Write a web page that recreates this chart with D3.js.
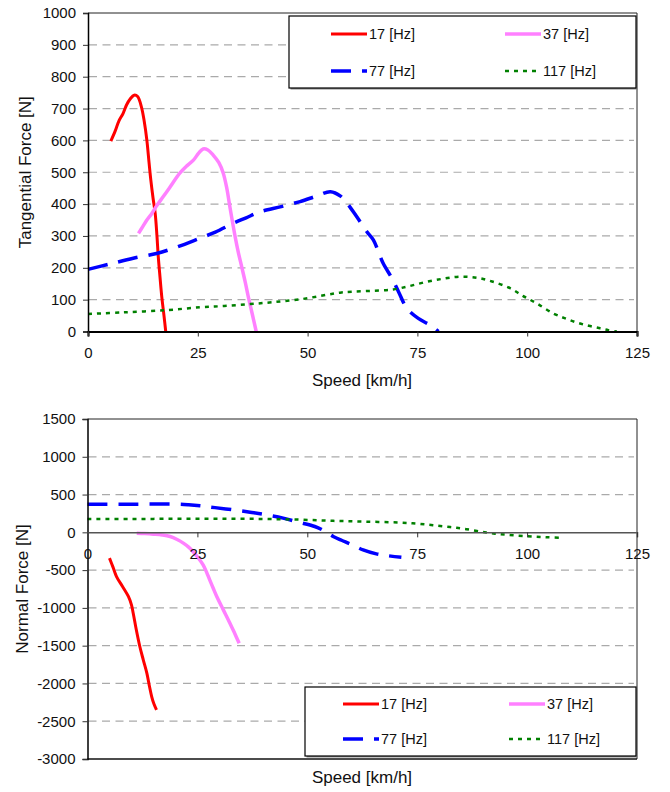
<!DOCTYPE html>
<html>
<head>
<meta charset="utf-8">
<script src="https://cdn.jsdelivr.net/npm/d3@7"></script>
<style>
  body { margin: 0; background: #fff; }
  svg { display: block; font-family: "Liberation Sans", Arial, sans-serif; }
</style>
</head>
<body>
<svg id="chart" width="670" height="792"></svg>
<script>
// series: [speed km/h, force N]
const seriesNames = ['17 [Hz]', '37 [Hz]', '77 [Hz]', '117 [Hz]'];
const speedTicks = [0, 25, 50, 75, 100, 125];
const tangentialTicks = d3.range(0, 1001, 100);
const normalTicks = d3.range(-3000, 1501, 500);

const tang17 = [[5.2,598],[6.2,630],[7,660],[8,685],[8.8,712],[9.6,730],[10.5,742],[11.3,738],[12.2,703],[12.8,660],[13.4,601],[13.9,530],[14.3,476],[14.8,420],[15.3,371],[15.7,300],[16.0,235],[16.4,170],[16.8,109],[17.3,50],[17.7,0]];
const tang37 = [[11.5,308],[12.5,330],[13.4,350],[14.5,370],[15.5,392],[17.1,423],[18.5,450],[20.9,497],[22.5,520],[24,538],[25.2,560],[26.2,573],[27.3,570],[28.5,554],[29.8,530],[30.8,497],[31.6,450],[32.3,392],[33.5,298],[34.2,250],[35.0,203],[35.8,155],[36.5,109],[37.4,55],[38.3,0]];
const tang77 = [[0,195],[5,212],[10.3,230],[15.6,245],[19.4,261],[25.5,293],[29,312],[33.1,340],[36,357],[39.2,376],[44,392],[48.3,408],[52,425],[55.2,439],[57.5,425],[59.3,397],[61.2,360],[63.5,313],[65,287],[66.1,251],[67.2,214],[69.2,167],[70.7,125],[72.6,73],[75.2,41],[77.9,20],[79.8,0]];
const tang117 = [[0,55],[8,60],[17.9,67],[25.5,76],[31,80],[36.9,86],[42,92],[48.3,101],[54.3,115],[57.4,122],[60.4,125],[65,128],[69.5,132],[73,142],[77.1,156],[81,166],[84.7,172],[88.5,169],[92,157],[96.1,136],[99,112],[102.2,88],[105.9,57],[108.5,42],[111.3,28],[114,18],[116.6,10],[118.5,4],[120.4,0]];

const norm17 = [[5.0,-341],[5.8,-460],[6.6,-585],[8,-720],[9.3,-849],[10.0,-960],[10.4,-1070],[11.1,-1290],[11.9,-1511],[12.7,-1690],[13.5,-1863],[14.1,-2040],[14.6,-2173],[15.1,-2270],[15.7,-2349]];
const norm37 = [[11.2,-11],[13,-16],[15,-24],[17,-35],[18.8,-55],[20.4,-95],[21.8,-143],[23,-195],[24.0,-254],[25.2,-340],[26.3,-430],[27.1,-530],[27.8,-629],[28.6,-740],[29.4,-849],[30.9,-1026],[32.4,-1202],[33.5,-1340],[34.5,-1467]];
const norm77 = [[0,373],[10,373],[20.3,372],[23,364],[25.6,351],[29,327],[33.1,298],[37,266],[40.7,232],[44.5,188],[48.3,130],[51.7,77],[53.5,30],[55.9,-55],[57.8,-105],[59.7,-152],[62.7,-232],[65.7,-285],[68,-307],[71.4,-329]];
const norm117 = [[0,175],[10,176],[20,180],[30,180],[40,177],[48.3,168],[55.9,152],[63,142],[71,130],[75,115],[78.6,95],[82.5,70],[86.2,42],[90.7,-3],[94,-25],[97.5,-42],[101.3,-55],[104.5,-65],[108.1,-73]];

const colors = ['#ff0000', '#ff80ff', '#0000ff', '#008000'];
const widths = [3, 3.5, 3.5, 2.5];
const dashes = [null, null, '20,11', '4,5'];
const FONT = '"Liberation Sans", Arial, sans-serif';

const svg = d3.select('#chart');

function drawPanel(cfg) {
  const x = d3.scaleLinear().domain([0, 125]).range([cfg.left, 637]);
  const y = d3.scaleLinear().domain(cfg.yDomain).range([cfg.bottom, cfg.top]);
  const g = svg.append('g');

  // dashed horizontal grid
  g.append('g').selectAll('line')
    .data(cfg.yTicks.filter(v => v !== 0 && v !== cfg.yDomain[0] && v !== cfg.yDomain[1]))
    .join('line')
    .attr('x1', cfg.left + 1).attr('x2', 634)
    .attr('y1', d => y(d)).attr('y2', d => y(d))
    .attr('stroke', '#aaa').attr('stroke-width', 1.2)
    .attr('stroke-dasharray', '8,5.5');

  // frame top + right
  g.append('line').attr('x1', cfg.left).attr('x2', 637).attr('y1', cfg.top).attr('y2', cfg.top)
    .attr('stroke', '#222').attr('stroke-width', 1);
  g.append('line').attr('x1', 637).attr('x2', 637).attr('y1', cfg.top).attr('y2', cfg.bottom)
    .attr('stroke', '#222').attr('stroke-width', 1);
  if (cfg.bottomFrame) {
    g.append('line').attr('x1', cfg.left).attr('x2', 637).attr('y1', cfg.bottom).attr('y2', cfg.bottom)
      .attr('stroke', '#111').attr('stroke-width', 1.5);
  }

  // series
  const line = d3.line().x(d => x(d[0])).y(d => y(d[1])).curve(d3.curveCatmullRom.alpha(0.5));
  cfg.data.forEach((s, i) => {
    g.append('path').datum(s)
      .attr('d', line)
      .attr('fill', 'none')
      .attr('stroke', colors[i])
      .attr('stroke-width', widths[i])
      .attr('stroke-dasharray', dashes[i]);
  });

  // y axis
  const ya = g.append('g').attr('transform', `translate(${cfg.left},0)`)
    .call(d3.axisLeft(y).tickValues(cfg.yTicks).tickSize(5).tickPadding(7).tickFormat(d => String(d)));
  ya.select('.domain').attr('stroke', '#000').attr('stroke-width', 1.5);
  ya.selectAll('.tick line').attr('stroke', '#333');
  ya.selectAll('text').attr('font-size', 15).attr('fill', '#111').attr('font-family', FONT);

  // x axis at zero
  const xa = g.append('g').attr('transform', `translate(0,${y(0)})`)
    .call(d3.axisBottom(x).tickValues(speedTicks).tickSize(5).tickPadding(11).tickFormat(d => String(d)));
  xa.select('.domain').attr('stroke', cfg.xAxisColor).attr('stroke-width', cfg.xAxisWidth);
  xa.selectAll('.tick line').attr('stroke', '#333');
  xa.selectAll('text').attr('font-size', 15).attr('fill', '#111').attr('font-family', FONT);

  // axis titles
  g.append('text').attr('x', 362).attr('y', cfg.xTitleY)
    .attr('text-anchor', 'middle').attr('font-size', 17).attr('fill', '#111')
    .text('Speed [km/h]');
  g.append('text')
    .attr('transform', `translate(${cfg.yTitleX},${(cfg.top + cfg.bottom) / 2}) rotate(-90)`)
    .attr('text-anchor', 'middle').attr('font-size', 17).attr('fill', '#111')
    .text(cfg.yTitle);

  // legend
  const L = cfg.legend;
  const lg = g.append('g');
  lg.append('rect').attr('x', L.x + 1.5).attr('y', L.y + 1.5).attr('width', L.w).attr('height', L.h)
    .attr('fill', '#888');
  lg.append('rect').attr('x', L.x).attr('y', L.y).attr('width', L.w).attr('height', L.h)
    .attr('fill', '#fff').attr('stroke', '#000').attr('stroke-width', 1.2);
  seriesNames.forEach((name, i) => {
    const cx = L.x + (i % 2 === 0 ? L.c1 : L.c2);
    const cy = L.y + (i < 2 ? L.r1 : L.r2);
    lg.append('line').attr('x1', cx).attr('x2', cx + 36).attr('y1', cy).attr('y2', cy)
      .attr('stroke', colors[i]).attr('stroke-width', widths[i])
      .attr('stroke-dasharray', dashes[i]);
    lg.append('text').attr('x', cx + 38).attr('y', cy + 5)
      .attr('font-size', 14.5).attr('fill', '#111').text(name);
  });
}

drawPanel({
  left: 88, top: 13, bottom: 331.5,
  yDomain: [0, 1000], yTicks: tangentialTicks,
  data: [tang17, tang37, tang77, tang117],
  xAxisColor: '#000', xAxisWidth: 2.2,
  xTitleY: 386, yTitleX: 31, yTitle: 'Tangential Force [N]',
  bottomFrame: false,
  legend: { x: 289, y: 16, w: 347, h: 72, c1: 42, c2: 216, r1: 18, r2: 55 }
});

drawPanel({
  left: 87.5, top: 419, bottom: 759,
  yDomain: [-3000, 1500], yTicks: normalTicks,
  data: [norm17, norm37, norm77, norm117],
  xAxisColor: '#555', xAxisWidth: 1.5,
  xTitleY: 783, yTitleX: 28, yTitle: 'Normal Force [N]',
  bottomFrame: true,
  legend: { x: 305, y: 687, w: 331, h: 69, c1: 38, c2: 204, r1: 17, r2: 52 }
});
</script>
</body>
</html>
